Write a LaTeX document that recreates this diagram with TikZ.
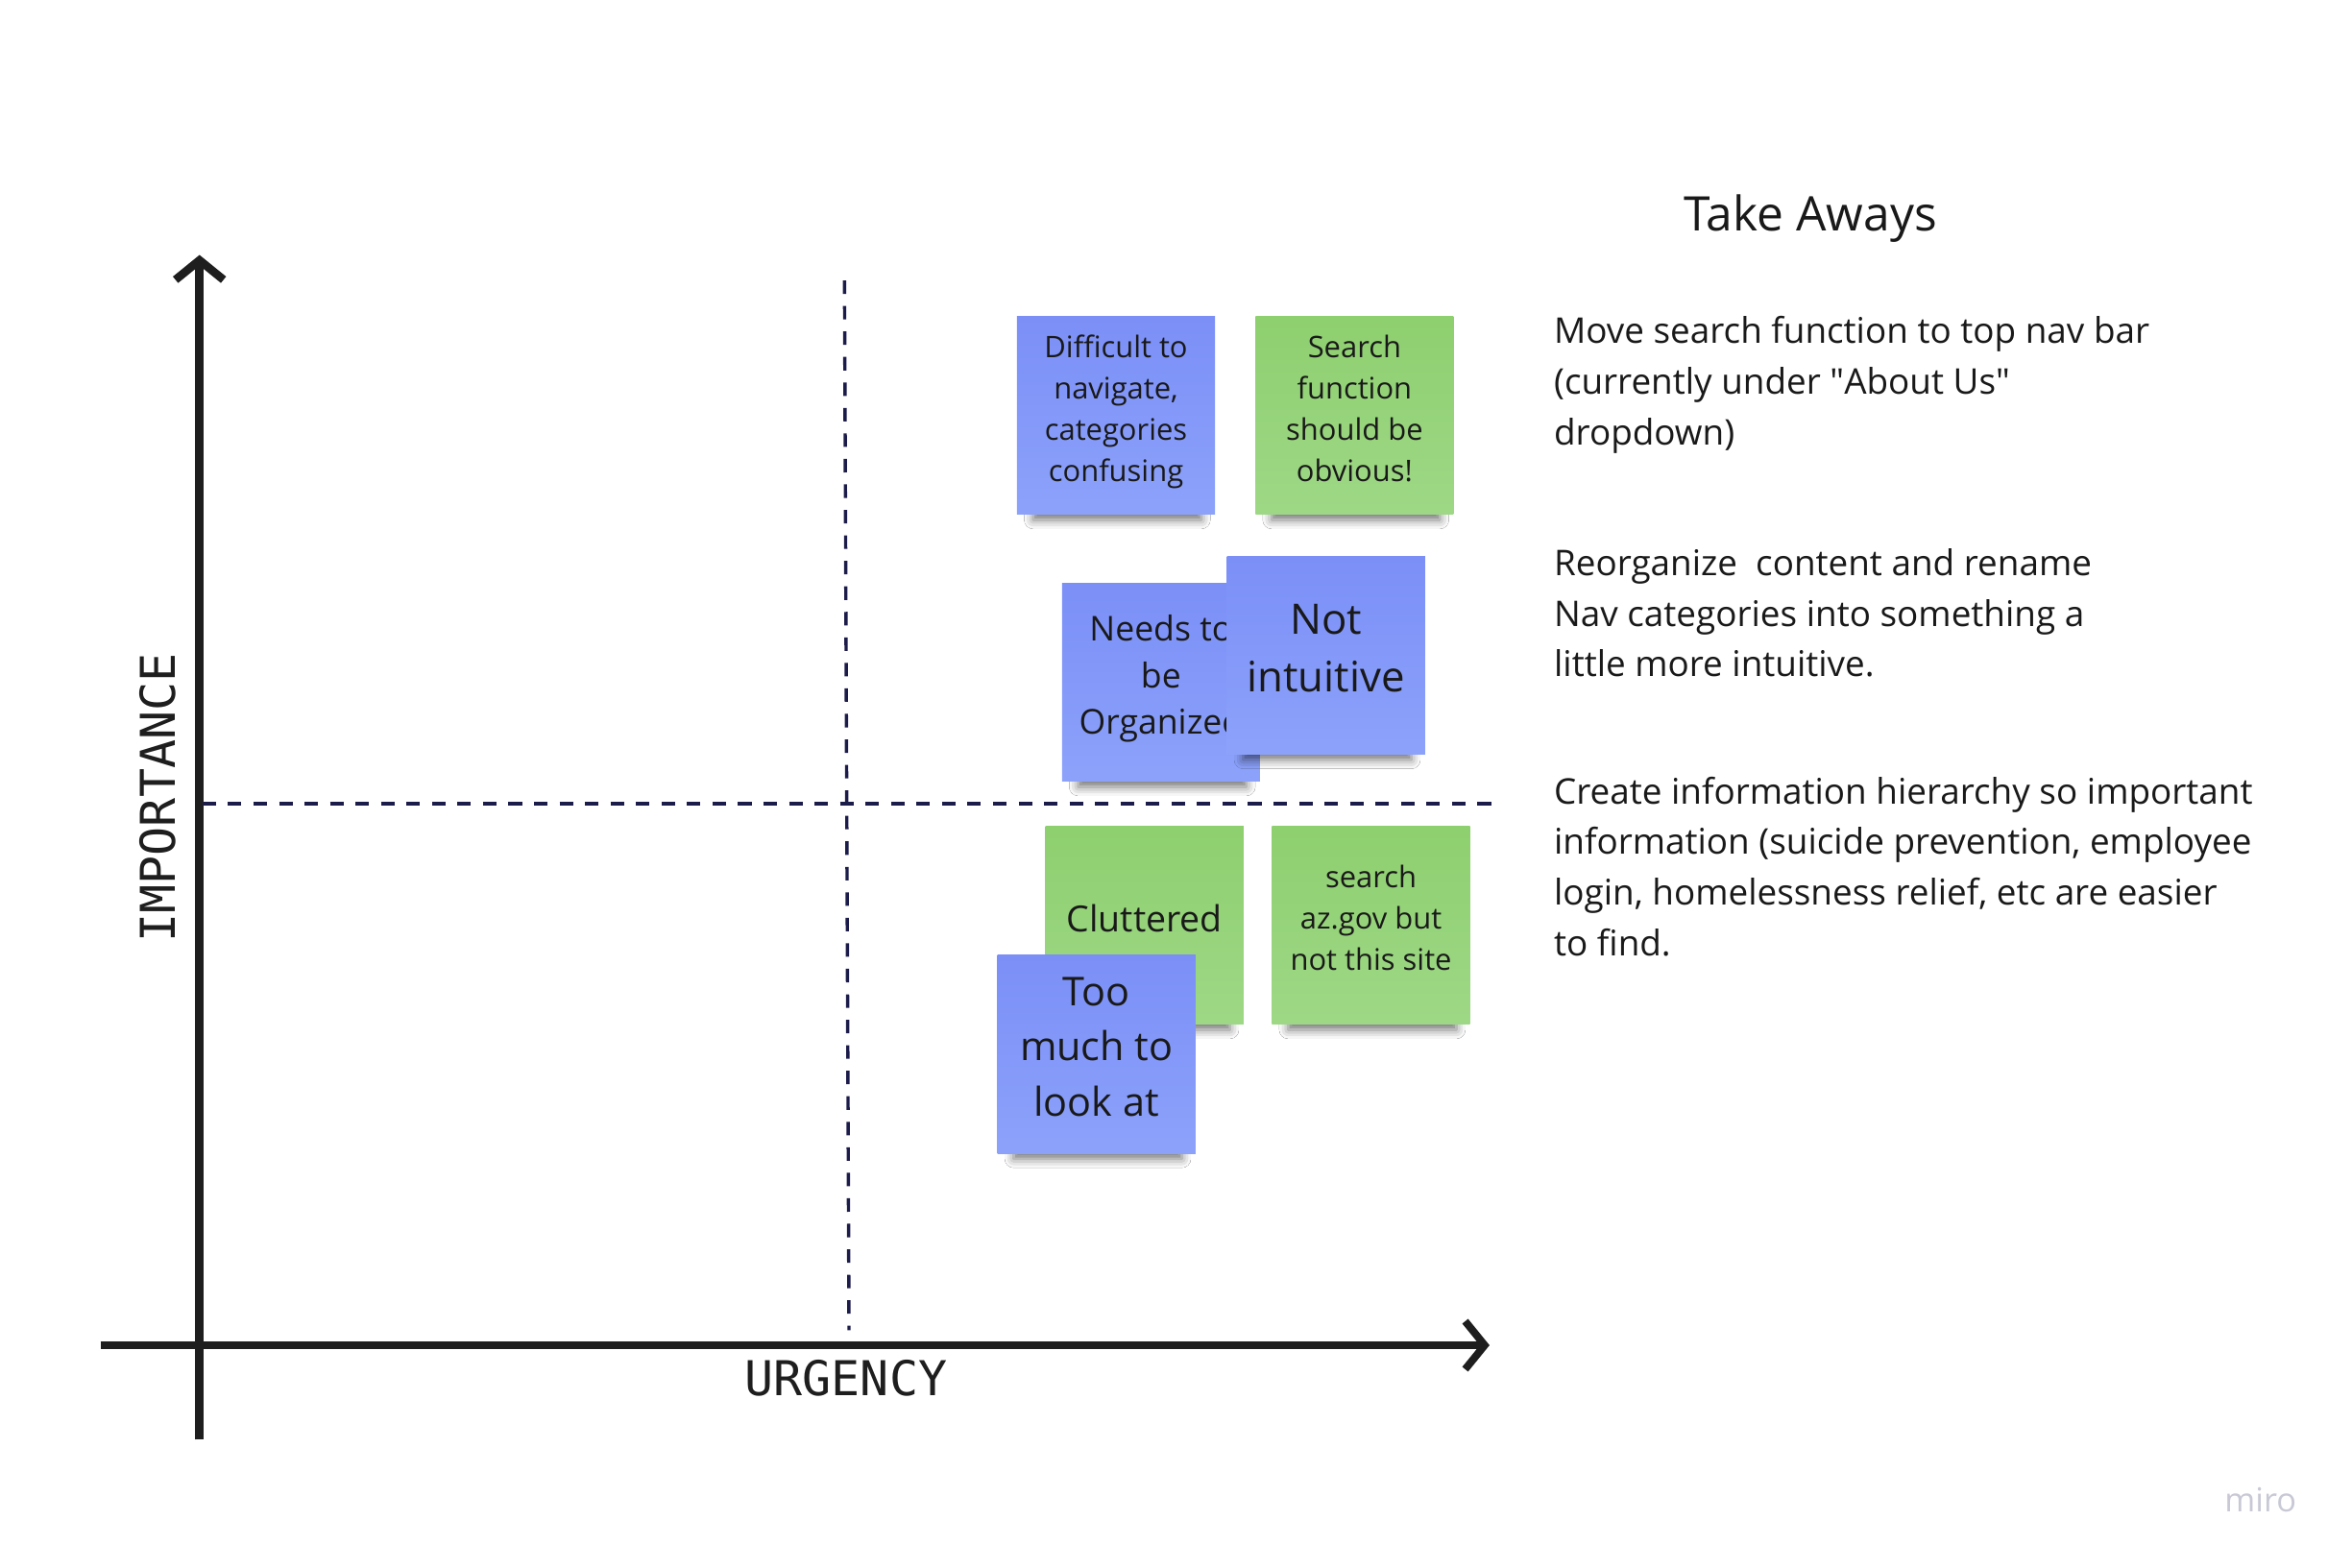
\documentclass[tikz,border=0pt]{standalone}
\usepackage{fontspec}
\setmainfont{Open Sans}
\newfontfamily\rawsans{Open Sans}
\newfontfamily\axisfont{DejaVu Sans Mono}
\usetikzlibrary{arrows.meta,shadows.blur}
\definecolor{noteblue}{HTML}{7B8FF7}
\definecolor{noteblueb}{HTML}{8CA2FA}
\definecolor{notegreen}{HTML}{8ECF6F}
\definecolor{notegreenb}{HTML}{9ED886}
\definecolor{gridnavy}{HTML}{1C1C4A}
\definecolor{axisink}{HTML}{1E1E1E}
\definecolor{mirogray}{HTML}{C9C9D6}
\begin{document}
\begin{tikzpicture}[x=1pt,y=-1pt,inner sep=0pt,outer sep=0pt,
note/.style={rectangle,minimum width=132pt,minimum height=132pt,align=center,text=black!90,text depth=10pt,
  blur shadow={shadow xshift=1pt,shadow yshift=-16pt,shadow scale=0.85,shadow blur radius=7pt,shadow opacity=55}},
bluenote/.style={note,top color=noteblue,bottom color=noteblueb},
greennote/.style={note,top color=notegreen,bottom color=notegreenb},
smalltext/.style={font=\fontsize{19.8}{27.5}\selectfont},
bodytext/.style={anchor=north west,align=left,text=black!90,font=\fontsize{23.6}{33.7}\selectfont},
axislabel/.style={text=axisink,font=\axisfont\fontsize{32}{36}\selectfont},
axisline/.style={draw=axisink,line width=5.5pt,-{Straight Barb[length=13pt,width=32pt]}},
quadline/.style={draw=gridnavy,line width=2.2pt,dash pattern=on 9pt off 8pt}]
\path[fill=white] (0,0) rectangle (1568,1045);
% axes
\coordinate (ybot) at (133,960);
\coordinate (ytop) at (133,170);
\coordinate (xleft) at (67,897);
\coordinate (xright) at (993,897);
\draw[axisline] (ybot) -- (ytop);
\draw[axisline,line width=5pt] (xleft) -- (xright);
\node[axislabel,rotate=90] (imp) at (105,532) {IMPORTANCE};
\node[axislabel] (urg) at (564,919) {URGENCY};
% quadrant split
\coordinate (vtop) at (563,187);
\coordinate (vbot) at (566,887);
\coordinate (hleft) at (135,536);
\coordinate (hright) at (997,536);
\draw[quadline] (vtop) -- (vbot);
\draw[quadline] (hleft) -- (hright);
% sticky notes
\draw (744,277) node[bluenote,smalltext] (diff) {Difficult to\\navigate,\\categories\\confusing};
\draw (903,277) node[greennote,smalltext] (srch) {Search\\function\\should be\\obvious!};
\draw (774,455) node[bluenote,font=\fontsize{22.8}{31}\selectfont] (org) {Needs to\\be\\Organized};
\draw (884,437) node[bluenote,font=\fontsize{28}{38}\selectfont] (notint) {Not\\intuitive};
\draw (763,617) node[greennote,font=\fontsize{24}{30}\selectfont] (clut) {Cluttered};
\draw (914,617) node[greennote,smalltext] (azgov) {search\\az.gov but\\not this site};
\draw (731,703) node[bluenote,font=\fontsize{26.5}{37}\selectfont] (toomuch) {Too\\much to\\look at};
% take aways
\node[text=black!90,font=\fontsize{31.8}{38}\selectfont] (title) at (1207,146) {Take Aways};
\node[bodytext] (tipa) at (1036,211) {Move search function to top nav bar\\(currently under {\rawsans"}About Us{\rawsans"}\\dropdown)};
\node[bodytext] (tipb) at (1036,366) {Reorganize\ \ content and rename\\Nav categories into something a\\little more intuitive.};
\node[bodytext] (tipc) at (1036,518) {Create information hierarchy so important\\information (suicide prevention, employee\\login, homelessness relief, etc are easier\\to find.};
\node[text=mirogray,font=\fontsize{22}{26}\selectfont] (brand) at (1507,1000) {miro};
\end{tikzpicture}
\end{document}
